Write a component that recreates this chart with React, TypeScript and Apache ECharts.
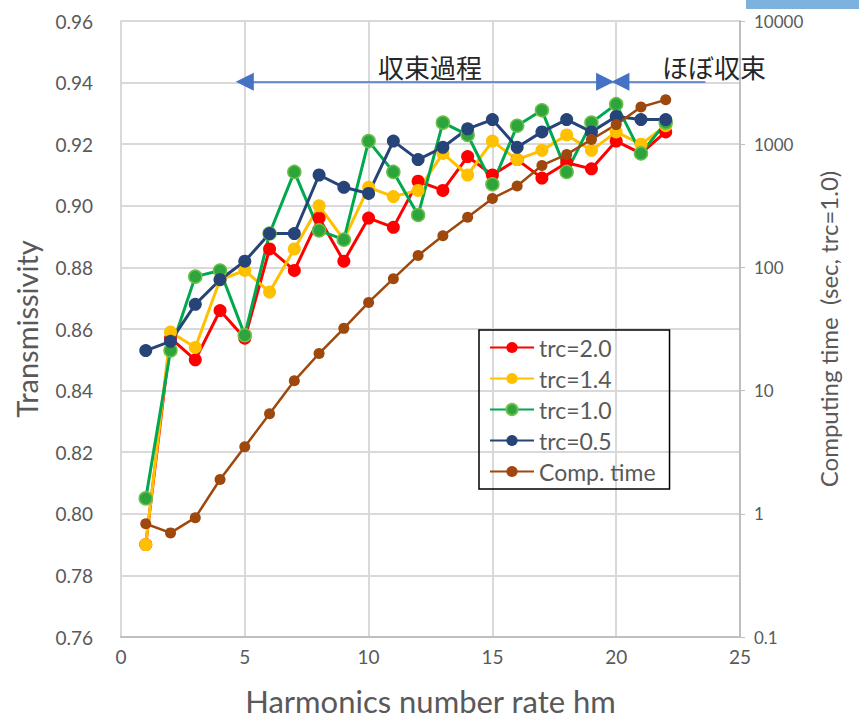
import React, { useEffect, useRef } from "react";
import * as echarts from "echarts";

// Harmonics number rate hm
const hm = [1, 2, 3, 4, 5, 6, 7, 8, 9, 10, 11, 12, 13, 14, 15, 16, 17, 18, 19, 20, 21, 22];

// Transmissivity for each trc setting
const trc20 = [0.790, 0.857, 0.850, 0.866, 0.857, 0.886, 0.879, 0.896, 0.882, 0.896, 0.893, 0.908, 0.905, 0.916, 0.910, 0.915, 0.909, 0.914, 0.912, 0.921, 0.917, 0.924];
const trc14 = [0.790, 0.859, 0.854, 0.876, 0.879, 0.872, 0.886, 0.900, 0.889, 0.906, 0.903, 0.905, 0.917, 0.910, 0.921, 0.915, 0.918, 0.923, 0.918, 0.924, 0.920, 0.926];
const trc10 = [0.805, 0.853, 0.877, 0.879, 0.858, 0.891, 0.911, 0.892, 0.889, 0.921, 0.911, 0.897, 0.927, 0.923, 0.907, 0.926, 0.931, 0.911, 0.927, 0.933, 0.917, 0.927];
const trc05 = [0.853, 0.856, 0.868, 0.876, 0.882, 0.891, 0.891, 0.910, 0.906, 0.904, 0.921, 0.915, 0.919, 0.925, 0.928, 0.919, 0.924, 0.928, 0.924, 0.929, 0.928, 0.928];

// Computing time in seconds (trc=1.0), log scale
const compTime = [0.83, 0.70, 0.93, 1.9, 3.5, 6.5, 12, 20, 32, 52, 81, 125, 181, 255, 363, 458, 673, 826, 1091, 1442, 2004, 2291];

// Annotation spans along hm (arrowhead centres), drawn at a transmissivity level
const convergingSpan = [5.0, 19.55];
const convergedSpan = [20.17, 23.6];
const arrowLevel = 0.9403;

const LATIN = "Lato, 'Noto Sans', sans-serif";
const CJK = "'Noto Sans CJK JP', sans-serif";
const GREY = "#595959";
const GRID = "#d9d9d9";

const pairs = (ys: number[]) => hm.map((x, i) => [x, ys[i]]);

export default function App() {
  const ref = useRef<HTMLDivElement>(null);

  useEffect(() => {
    if (!ref.current) return;
    const chart = echarts.init(ref.current, undefined, { renderer: "svg" });

    const trcSeries = (name: string, data: number[], color: string, marker: string, border?: string) => ({
      name,
      type: "line",
      xAxisIndex: 0,
      yAxisIndex: 0,
      data: pairs(data),
      symbol: "circle",
      symbolSize: 13,
      lineStyle: { color, width: 3 },
      itemStyle: { color: marker, borderColor: border || marker, borderWidth: border ? 1.5 : 0 },
      emphasis: { disabled: true },
    });

    const head = { symbol: "triangle", symbolSize: [18, 18] };
    const spanArrows = {
      silent: true,
      symbolSize: [18, 18],
      label: { show: false },
      lineStyle: { color: "#4472c4", width: 1.5, type: "solid" },
      data: [
        [
          { coord: [convergingSpan[0], arrowLevel], ...head },
          { coord: [convergingSpan[1], arrowLevel], ...head },
        ],
        [
          { coord: [convergedSpan[0], arrowLevel], ...head },
          { coord: [convergedSpan[1], arrowLevel], symbol: "none" },
        ],
      ],
    };

    const blue = { ...trcSeries("trc=0.5", trc05, "#264478", "#264478"), markLine: spanArrows };

    chart.setOption({
      animation: false,
      backgroundColor: "#ffffff",
      grid: { left: 121, right: 119, top: 21, bottom: 81 },
      legend: {
        orient: "vertical",
        left: 479,
        top: 330,
        padding: [6, 14, 6, 10],
        itemGap: 8,
        itemWidth: 44,
        itemHeight: 14,
        borderColor: "#000000",
        borderWidth: 1.5,
        textStyle: { fontFamily: LATIN, fontSize: 23, color: GREY },
        data: ["trc=2.0", "trc=1.4", "trc=1.0", "trc=0.5", "Comp. time"],
      },
      xAxis: {
        type: "value",
        min: 0,
        max: 25,
        interval: 5,
        name: "Harmonics number rate hm",
        nameLocation: "middle",
        nameGap: 48,
        nameTextStyle: { fontFamily: LATIN, fontSize: 31, color: GREY },
        axisLine: { show: true, lineStyle: { color: "#bfbfbf", width: 2 } },
        axisTick: { show: false },
        axisLabel: { fontFamily: LATIN, fontSize: 19, color: GREY, margin: 10 },
        splitLine: { show: true, lineStyle: { color: GRID, width: 2 } },
      },
      yAxis: [
        {
          type: "value",
          min: 0.76,
          max: 0.96,
          interval: 0.02,
          position: "left",
          name: "Transmissivity",
          nameLocation: "middle",
          nameGap: 80,
          nameRotate: 90,
          nameTextStyle: { fontFamily: LATIN, fontSize: 29, color: GREY },
          axisLine: { show: true, lineStyle: { color: GRID, width: 2 } },
          axisTick: { show: false },
          axisLabel: {
            fontFamily: LATIN,
            fontSize: 19,
            color: GREY,
            margin: 28,
            formatter: (v: number) => v.toFixed(2),
          },
          splitLine: { show: true, lineStyle: { color: GRID, width: 2 } },
        },
        {
          type: "log",
          logBase: 10,
          min: 0.1,
          max: 10000,
          position: "right",
          name: "Computing time  (sec, trc=1.0)",
          nameLocation: "middle",
          nameGap: 76,
          nameRotate: 90,
          nameTextStyle: { fontFamily: LATIN, fontSize: 24, color: GREY },
          axisLine: { show: true, lineStyle: { color: "#bfbfbf", width: 2 } },
          axisTick: { show: true, inside: false, length: 5, lineStyle: { color: "#bfbfbf" } },
          axisLabel: {
            fontFamily: LATIN,
            fontSize: 17,
            color: GREY,
            margin: 14,
            formatter: (v: number) => (v < 1 ? v.toFixed(1) : String(Math.round(v))),
          },
          splitLine: { show: false },
        },
      ],
      series: [
        trcSeries("trc=2.0", trc20, "#ff0000", "#ff0000"),
        trcSeries("trc=1.4", trc14, "#ffc000", "#ffc000"),
        trcSeries("trc=1.0", trc10, "#00a84f", "#2ea43c", "#6cbf4a"),
        blue,
        {
          name: "Comp. time",
          type: "line",
          xAxisIndex: 0,
          yAxisIndex: 1,
          data: pairs(compTime),
          symbol: "circle",
          symbolSize: 11,
          lineStyle: { color: "#9e480e", width: 2.5 },
          itemStyle: { color: "#9e480e" },
          emphasis: { disabled: true },
        },
      ],
      graphic: [
        {
          type: "rect",
          shape: { x: 746, y: 0, width: 113, height: 9 },
          style: { fill: "#7db2de" },
          silent: true,
        },
        {
          type: "text",
          x: 430,
          y: 66,
          style: {
            text: "収束過程",
            fontFamily: CJK,
            fontSize: 26,
            fill: "#262626",
            textAlign: "center",
            textVerticalAlign: "middle",
          },
          silent: true,
        },
        {
          type: "text",
          x: 714,
          y: 66,
          style: {
            text: "ほぼ収束",
            fontFamily: CJK,
            fontSize: 26,
            fill: "#262626",
            textAlign: "center",
            textVerticalAlign: "middle",
          },
          silent: true,
        },
      ],
    });

    return () => chart.dispose();
  }, []);

  return (
    <div
      ref={ref}
      style={{ position: "fixed", left: 0, top: 0, width: 859, height: 721 }}
    />
  );
}
